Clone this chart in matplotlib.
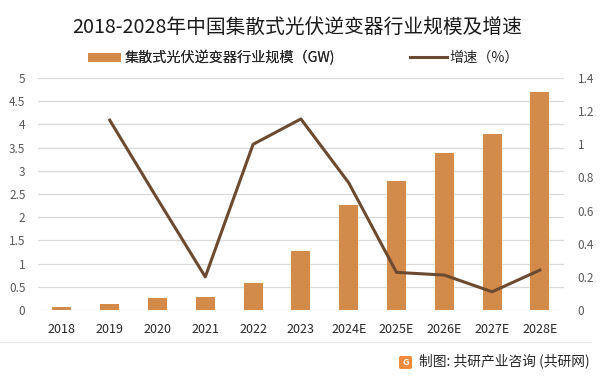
import matplotlib
matplotlib.use("Agg")
import matplotlib.pyplot as plt
from matplotlib.patches import FancyBboxPatch, Patch
from matplotlib.lines import Line2D

plt.rcParams['font.family'] = ['Noto Sans CJK SC', 'DejaVu Sans']

years = ["2018", "2019", "2020", "2021", "2022", "2023", "2024E", "2025E", "2026E", "2027E", "2028E"]
scale_gw = [0.07, 0.14, 0.25, 0.28, 0.58, 1.27, 2.26, 2.78, 3.39, 3.79, 4.70]
growth = [None, 1.146, 0.67, 0.20, 1.00, 1.153, 0.768, 0.227, 0.211, 0.11, 0.241]

left_ticks = [0, 0.5, 1, 1.5, 2, 2.5, 3, 3.5, 4, 4.5, 5]
left_labels = ["0", "0.5", "1", "1.5", "2", "2.5", "3", "3.5", "4", "4.5", "5"]
right_ticks = [0, 0.2, 0.4, 0.6, 0.8, 1.0, 1.2, 1.4]
right_labels = ["0", "0.2", "0.4", "0.6", "0.8", "1", "1.2", "1.4"]

title = "2018-2028年中国集散式光伏逆变器行业规模及增速"
bar_label = "集散式光伏逆变器行业规模（GW)"
line_label = "增速（%）"
source = "制图: 共研产业咨询 (共研网)"

bar_color = "#D38B4C"
line_color = "#6B4A2F"
tick_color = "#595959"
grid_color = "#D9D9D9"

fig = plt.figure(figsize=(6.03, 3.76), dpi=100)
ax = fig.add_axes([0.063, 0.1755, 0.872, 0.617])
ax2 = ax.twinx()

x = list(range(len(years)))
ax.bar(x, scale_gw, width=0.4, color=bar_color, zorder=2)
ax.set_xlim(-0.5, len(years) - 0.5)
ax.set_ylim(0, 5)
ax.set_yticks(left_ticks)
ax.set_yticklabels(left_labels)
ax.set_xticks(x)
ax.set_xticklabels(years)
ax.grid(axis='y', color=grid_color, linewidth=0.9, zorder=0)
ax.set_axisbelow(True)
for s in ax.spines.values():
    s.set_visible(False)
for s in ax2.spines.values():
    s.set_visible(False)
ax.tick_params(axis='both', length=0, labelsize=8.5, colors=tick_color)
ax.tick_params(axis='x', pad=9, labelcolor='#262626', labelsize=9)
ax.tick_params(axis='y', pad=9)

gx = [i for i, g in zip(x, growth) if g is not None]
gy = [g for g in growth if g is not None]
ax2.plot(gx, gy, color=line_color, linewidth=2.2, zorder=3)
ax2.set_ylim(0, 1.4)
ax2.set_yticks(right_ticks)
ax2.set_yticklabels(right_labels)
ax2.tick_params(axis='y', length=0, labelsize=8.5, colors=tick_color, pad=10)

fig.text(0.492, 1 - 27 / 376, title, ha='center', va='center', fontsize=14.2, color='#1a1a1a')

leg_y = 1 - 58 / 376
leg1 = fig.legend([Patch(facecolor=bar_color, edgecolor='none')], [bar_label],
                  loc='center left', bbox_to_anchor=(88 / 603, leg_y), frameon=False,
                  fontsize=10.2, handlelength=2.3, handleheight=0.55, handletextpad=0.25,
                  borderpad=0, borderaxespad=0, labelcolor='#262626')
fig.add_artist(leg1)
fig.legend([Line2D([0], [0], color=line_color, linewidth=2.2)], [line_label],
           loc='center left', bbox_to_anchor=(410 / 603, leg_y), frameon=False,
           fontsize=10.2, handlelength=2.6, handletextpad=0.2,
           borderpad=0, borderaxespad=0, labelcolor='#262626')

fig.add_artist(Line2D([0.0, 0.98], [1 - 342 / 376, 1 - 342 / 376], transform=fig.transFigure,
                      color='#E6E6E6', linewidth=0.8))
logo = FancyBboxPatch((399 / 603, 1 - 369 / 376), 13 / 603, 13 / 376,
                      boxstyle="round,pad=0.0,rounding_size=0.004", transform=fig.transFigure,
                      facecolor='#F08A3C', edgecolor='none')
fig.add_artist(logo)
fig.text(405.5 / 603, 1 - 362.5 / 376, "G", ha='center', va='center', fontsize=6.5,
         color='white', fontweight='bold')
fig.text(0.978, 1 - 361 / 376, source, ha='right', va='center', fontsize=9.9, color='#262626')

fig.savefig("out.png", dpi=100)
